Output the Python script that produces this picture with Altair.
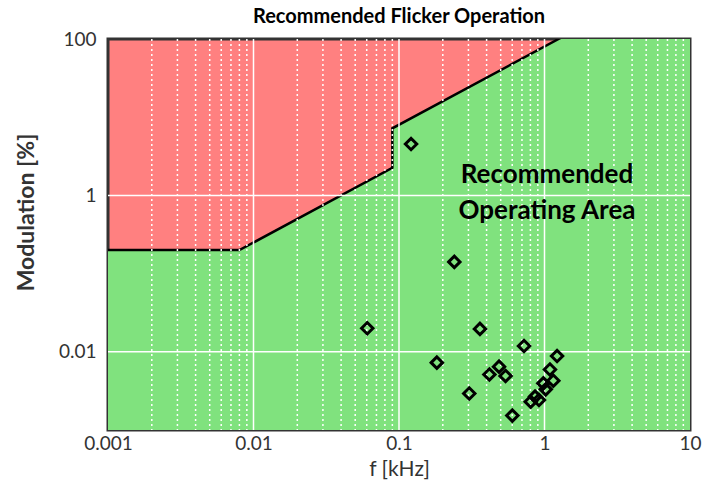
import altair as alt
import pandas as pd

# Boundary of the recommended area (f in kHz, modulation in %)
bound_f = [0.001, 0.008, 0.09, 0.0900001, 1.25, 10]
bound_m = [0.2, 0.2, 2.25, 7.2, 100, 800]

# Measured points
pts_f = [0.121, 0.240, 0.0605, 0.360, 0.723, 1.22, 0.182, 0.487, 0.418, 0.540,
         1.09, 1.15, 0.982, 1.02, 0.304, 0.861, 0.804, 0.916, 0.601]
pts_m = [4.54, 0.141, 0.020, 0.0196, 0.01186, 0.00883, 0.00726, 0.00645, 0.00513, 0.00491,
         0.00594, 0.00427, 0.00395, 0.00331, 0.00293, 0.00267, 0.00230, 0.00242, 0.00153]

x_ticks = [0.001, 0.01, 0.1, 1, 10]
y_ticks = [0.01, 1, 100]
minor_x = [k * d for d in [0.001, 0.01, 0.1, 1] for k in range(2, 10)]

note_f = [1.04]
note_m = [1.85]
note_text = ["Recommended\nOperating Area"]

FONT = "Lato"

bound = pd.DataFrame({"f": bound_f, "m": bound_m, "base": [0.001] * len(bound_f)})
pts = pd.DataFrame({"f": pts_f, "m": pts_m})

xs = alt.Scale(type="log", domain=[0.001, 10], nice=False)
ys = alt.Scale(type="log", domain=[0.001, 100], nice=False)

green = alt.Chart(bound).mark_area(color="#80E27E", opacity=1, clip=True).encode(
    x=alt.X("f:Q", scale=xs, axis=alt.Axis(values=x_ticks, format="~g", title="f [kHz]",
                                           grid=False, domain=False, ticks=False,
                                           labelFlush=False, labelOverlap=False,
                                           labelFontSize=19, labelColor="#333333",
                                           labelPadding=4, titleFontSize=21,
                                           titleFontWeight="normal", titleColor="#333333",
                                           titlePadding=5, labelFont=FONT, titleFont=FONT)),
    y=alt.Y("m:Q", scale=ys, axis=alt.Axis(values=y_ticks, format="~g", title="Modulation [%]",
                                           grid=False, domain=False, ticks=False,
                                           labelFlush=False, labelOverlap=False,
                                           labelFontSize=19, labelColor="#333333",
                                           labelPadding=12, titleFontSize=23,
                                           titleFontWeight="bold", titleColor="#333333",
                                           titlePadding=20, titleY=173,
                                           labelFont=FONT, titleFont=FONT)),
    y2="base:Q",
)

line = alt.Chart(bound).mark_line(color="black", strokeWidth=2.5, clip=True).encode(
    x=alt.X("f:Q", scale=xs), y=alt.Y("m:Q", scale=ys)
)

minor = alt.Chart(pd.DataFrame({"f": minor_x})).mark_rule(
    color="white", strokeWidth=1.5, strokeDash=[2, 3]
).encode(x=alt.X("f:Q", scale=xs))

major_x = alt.Chart(pd.DataFrame({"f": x_ticks[1:-1]})).mark_rule(
    color="white", strokeWidth=1.5
).encode(x=alt.X("f:Q", scale=xs))

major_y = alt.Chart(pd.DataFrame({"m": [0.01, 1]})).mark_rule(
    color="white", strokeWidth=1.5
).encode(y=alt.Y("m:Q", scale=ys))

points = alt.Chart(pts).mark_point(
    shape="diamond", filled=False, color="black", strokeWidth=3, size=130, opacity=1
).encode(x=alt.X("f:Q", scale=xs), y=alt.Y("m:Q", scale=ys))

note = alt.Chart(pd.DataFrame({"f": note_f, "m": note_m, "t": note_text})).mark_text(
    font=FONT, fontSize=26, fontWeight="bold", color="black", align="center",
    baseline="middle", lineBreak="\n", lineHeight=36
).encode(x=alt.X("f:Q", scale=xs), y=alt.Y("m:Q", scale=ys), text="t:N")

chart = alt.layer(green, line, minor, major_x, major_y, points, note).properties(
    width=582, height=391,
    title=alt.TitleParams("Recommended Flicker Operation", font=FONT, fontSize=20,
                          fontWeight="bold", color="black", offset=3),
    autosize=alt.AutoSizeParams(type="none"),
    padding={"left": 108, "top": 39, "right": 36, "bottom": 55},
).configure_view(fill="#FF8080", stroke="#333333", strokeWidth=3)

chart.save("out.html", embed_options={"renderer": "svg", "actions": False})
